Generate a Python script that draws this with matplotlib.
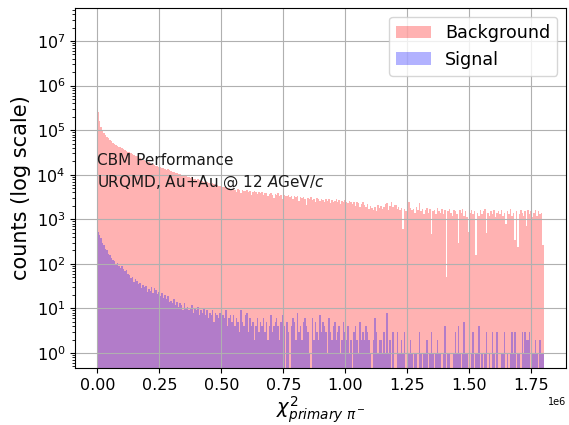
import numpy as np
import matplotlib
matplotlib.use('Agg')
import matplotlib.pyplot as plt

# histogram binning: 300 bins between 0 and 1.8e6
x_min = 0.0
x_max = 1.8e6
n_bins = 300

# background counts per bin
background_counts = [
    250000, 160000, 120000, 100000, 88000, 80000, 72000, 66000, 60000, 56000,
    52000, 50000, 46000, 44000, 42000, 41000, 39000, 37000, 36000, 34000,
    33000, 32000, 30000, 29500, 28000, 27000, 26000, 25000, 24000, 22000,
    21500, 21000, 20000, 19500, 19000, 18000, 17500, 17000, 16500, 16000,
    15500, 15200, 14800, 14000, 14200, 13500, 13000, 13200, 12500, 12000,
    11800, 11500, 11000, 11200, 10500, 10200, 10000, 9800, 9500, 9300,
    9000, 8900, 8500, 8700, 8200, 8000, 7800, 7900, 7500, 7300,
    7100, 7000, 6800, 6900, 6600, 6400, 6300, 6500, 6100, 5900,
    5800, 5600, 5700, 5500, 5300, 5400, 5200, 5000, 5100, 4900,
    4800, 5000, 4600, 4200, 4700, 4500, 3900, 4600, 4400, 4300,
    4500, 4100, 4400, 3600, 4200, 4300, 4000, 3700, 4100, 3900,
    4000, 3500, 3900, 3800, 3300, 3700, 3900, 3600, 3000, 3700,
    3500, 3800, 3400, 3600, 2900, 3500, 3300, 3400, 3600, 3200,
    3300, 2800, 3400, 3100, 3300, 2600, 3200, 3000, 3100, 2900,
    2100, 3000, 2900, 3100, 2700, 2900, 2500, 3000, 2800, 2600,
    2900, 2700, 2400, 2800, 2600, 2800, 2300, 2700, 2500, 2600,
    2800, 2500, 2700, 2200, 2600, 2400, 2700, 2500, 2300, 2600,
    2400, 2200, 2500, 2000, 2400, 2300, 1900, 2200, 2400, 2100,
    1900, 2200, 1700, 2000, 1800, 1600, 1900, 1500, 2100, 1800,
    2000, 1700, 1900, 2200, 2300, 1600, 2000, 2400, 1900, 2100,
    2100, 1700, 1900, 1600, 1800, 600, 1700, 1500, 1900, 2500,
    1800, 1600, 1700, 1400, 1900, 1600, 2300, 1500, 1700, 1300,
    1600, 1800, 1400, 1700, 480, 1500, 1600, 1300, 1800, 1500,
    1400, 1700, 1300, 1600, 50, 1500, 1700, 1400, 1200, 1600,
    1500, 1300, 300, 1600, 1400, 1700, 1200, 1500, 1100, 510,
    1400, 1600, 1300, 1500, 155, 1400, 1200, 1600, 1300, 1500,
    1700, 500, 1400, 1200, 1500, 1300, 1600, 1100, 1400, 1500,
    1300, 1600, 1200, 1400, 800, 1500, 1300, 1700, 1200, 1400,
    340, 1500, 235, 1300, 1600, 1400, 1200, 1500, 700, 1600,
    1300, 1500, 1100, 1400, 1600, 1200, 1500, 1300, 1400, 260,
]

# signal counts per bin
signal_counts = [
    520, 450, 380, 300, 260, 220, 200, 170, 155, 136,
    125, 115, 100, 105, 92, 82, 88, 75, 70, 72,
    60, 55, 48, 52, 40, 46, 42, 35, 38, 29,
    33, 30, 32, 24, 28, 25, 30, 22, 29, 26,
    21, 24, 19, 22, 17, 20, 16, 19, 14, 15,
    13, 16, 12, 14, 11, 13, 12, 9, 13, 10,
    11, 9, 10, 12, 8, 10, 9, 11, 7, 9,
    8, 10, 7, 9, 6, 8, 7, 9, 5, 8,
    7, 6, 8, 5, 7, 6, 9, 4, 6, 7,
    5, 7, 4, 6, 5, 3, 9, 5, 4, 7,
    8, 3, 6, 4, 5, 2, 4, 6, 3, 5,
    4, 6, 3, 5, 2, 4, 7, 3, 4, 5,
    6, 4, 2, 5, 7, 4, 0, 5, 3, 0,
    4, 6, 5, 2, 8, 3, 4, 2, 5, 6,
    4, 3, 1, 0, 6, 2, 5, 3, 2, 7,
    3, 5, 4, 3, 1, 6, 3, 2, 4, 5,
    2, 3, 4, 1, 2, 5, 3, 2, 4, 1,
    2, 0, 3, 4, 2, 1, 5, 2, 3, 2,
    4, 3, 2, 1, 0, 2, 6, 3, 1, 2,
    2, 1, 3, 1, 8, 1, 2, 0, 3, 0,
    0, 3, 1, 1, 2, 1, 3, 0, 0, 1,
    2, 1, 0, 1, 1, 0, 3, 1, 0, 1,
    1, 2, 0, 1, 3, 1, 0, 1, 2, 1,
    1, 0, 1, 4, 0, 1, 1, 0, 0, 1,
    3, 1, 4, 1, 0, 1, 5, 1, 1, 0,
    0, 1, 3, 0, 1, 1, 4, 0, 1, 0,
    1, 3, 0, 1, 0, 3, 1, 0, 3, 0,
    0, 1, 1, 3, 0, 1, 0, 1, 3, 1,
    3, 0, 1, 1, 0, 3, 1, 3, 2, 2,
    3, 0, 1, 1, 2, 1, 0, 2, 1, 1,
]

edges = np.linspace(x_min, x_max, n_bins + 1)
centers = 0.5 * (edges[:-1] + edges[1:])

fig = plt.figure(figsize=(5.69, 4.25), dpi=100)
ax = fig.add_subplot(111)
fig.subplots_adjust(left=0.132, right=0.995, top=0.981, bottom=0.134)

ax.hist(centers, bins=edges, weights=background_counts, color='red', alpha=0.3,
        log=True, label='Background')
ax.hist(centers, bins=edges, weights=signal_counts, color='blue', alpha=0.3,
        log=True, label='Signal')

ax.set_ylim(0.46, 5.5e7)
ax.grid(True)
ax.tick_params(axis='both', labelsize=11.5)
ax.xaxis.get_offset_text().set_fontsize(7)
ax.set_ylabel('counts (log scale)', fontsize=15)
ax.set_xlabel(r'$\chi^2_{primary\ \pi^-}$', fontsize=14, labelpad=1)

ax.text(0.045, 0.598, 'CBM Performance', transform=ax.transAxes,
        fontsize=11, va='top', ha='left', color='#1a1a1a')
ax.text(0.045, 0.540, r'URQMD, Au+Au @ 12 $A$GeV/$c$', transform=ax.transAxes,
        fontsize=11, va='top', ha='left', color='#1a1a1a')

ax.legend(loc='upper right', fontsize=12.6)

plt.savefig('out.png', dpi=100)
